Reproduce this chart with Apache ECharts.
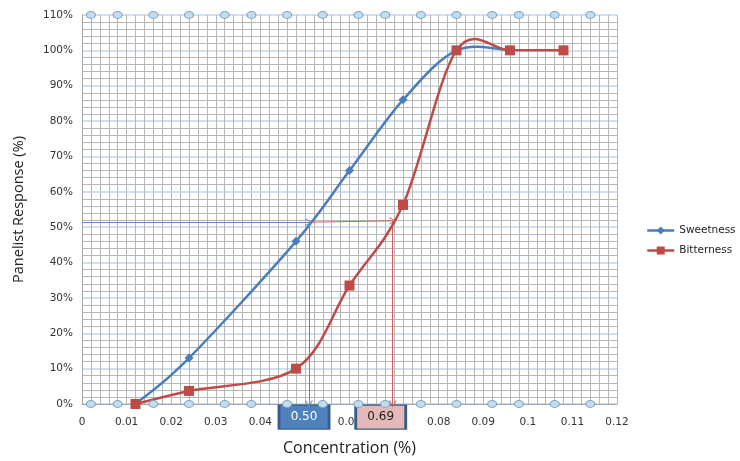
<!DOCTYPE html>
<html>
<head>
<meta charset="utf-8">
<script src="https://cdn.jsdelivr.net/npm/echarts@6/dist/echarts.min.js"></script>
<style>html,body{margin:0;padding:0;background:#fff}#c{width:740px;height:461px}</style>
</head>
<body>
<div id="c"></div>
<script>
// Concentration (%) values
var sweetX = [0.012, 0.024, 0.048, 0.060, 0.072, 0.084, 0.096];
var sweetY = [0, 13, 46, 66, 86, 100, 100];
var bitterX = [0.012, 0.024, 0.048, 0.060, 0.072, 0.084, 0.096, 0.108];
var bitterY = [0, 3.7, 10, 33.5, 56.3, 100, 100, 100];
// decorative circle markers along top (110%) and bottom (0%)
var ringX = [0.002, 0.008, 0.016, 0.024, 0.032, 0.038, 0.046, 0.054, 0.062, 0.068, 0.076, 0.084, 0.092, 0.098, 0.106, 0.114];
var ringY = [0, 110];
// read-off annotation
var readY = 51.4;
var sweetRead = 0.0509;
var bitterRead = 0.0697;
var bitterReadY = 51.8;
var boxLabels = ['0.50', '0.69'];
var boxX = [0.0498, 0.067];
var boxY = -3.7;

var BLUE = '#4a7ebb', RED = '#be4b48';
var pairs = function (xs, ys) { return xs.map(function (x, i) { return [x, ys[i]]; }); };
var rings = [];
ringY.forEach(function (y) { ringX.forEach(function (x) { rings.push([x, y]); }); });

// Excel-style smoothed curve through the data points (Catmull-Rom -> Bezier), drawn in pixel space
function smoothCurve(xs, ys, color) {
  return function (params, api) {
    if (params.dataIndex !== 0) return null;
    var p = xs.map(function (x, i) { return api.coord([x, ys[i]]); });
    var n = p.length, kids = [];
    for (var i = 0; i < n - 1; i++) {
      var p0 = p[Math.max(i - 1, 0)], p1 = p[i], p2 = p[i + 1], p3 = p[Math.min(i + 2, n - 1)];
      kids.push({
        type: 'bezierCurve',
        shape: {
          x1: p1[0], y1: p1[1], x2: p2[0], y2: p2[1],
          cpx1: p1[0] + (p2[0] - p0[0]) / 6, cpy1: p1[1] + (p2[1] - p0[1]) / 6,
          cpx2: p2[0] - (p3[0] - p1[0]) / 6, cpy2: p2[1] - (p3[1] - p1[1]) / 6
        },
        style: { stroke: color, lineWidth: 2.5, fill: null, lineCap: 'round' }
      });
    }
    return { type: 'group', children: kids };
  };
}

var chevron = 'path://M0,10L5,0L10,10L8.6,10L5,2.8L1.4,10Z';

var chart = echarts.init(document.getElementById('c'));
chart.setOption({
  animation: false,
  backgroundColor: '#fff',
  grid: { left: 82, right: 123, top: 15, bottom: 55 },
  legend: {
    orient: 'vertical', left: 641, top: 220, itemWidth: 27, itemHeight: 10, itemGap: 9,
    data: [
      { name: 'Sweetness', lineStyle: { color: BLUE, width: 2.5, opacity: 1 } },
      { name: 'Bitterness', lineStyle: { color: RED, width: 2.5, opacity: 1 } }
    ],
    textStyle: { fontFamily: 'DejaVu Sans', fontSize: 10.5, color: '#222' }
  },
  xAxis: {
    type: 'value', min: 0, max: 0.12, interval: 0.01,
    name: 'Concentration (%)', nameLocation: 'middle', nameGap: 36,
    nameTextStyle: { fontFamily: 'Open Sans', fontSize: 16, color: '#222' },
    axisLine: { show: true, lineStyle: { color: '#a6a6a6' } },
    axisTick: { show: false },
    axisLabel: { fontFamily: 'DejaVu Sans', fontSize: 10.5, color: '#333', margin: 13 },
    splitLine: { show: true, lineStyle: { color: '#b6b6b6', width: 1 } },
    minorTick: { show: false, splitNumber: 5 },
    minorSplitLine: { show: true, lineStyle: { color: '#b6b6b6', width: 1 } }
  },
  yAxis: {
    type: 'value', min: 0, max: 110, interval: 10,
    name: 'Panelist Response (%)', nameLocation: 'middle', nameGap: 56,
    nameTextStyle: { fontFamily: 'Open Sans', fontSize: 14.5, color: '#222' },
    axisLine: { show: true, lineStyle: { color: '#a6a6a6' } },
    axisTick: { show: false },
    axisLabel: { fontFamily: 'DejaVu Sans', fontSize: 10.5, color: '#333', margin: 9, formatter: '{value}%' },
    splitLine: { show: true, lineStyle: { color: '#c3d5ec', width: 1.5 } },
    minorTick: { show: false, splitNumber: 5 },
    minorSplitLine: { show: true, lineStyle: { color: '#b6b6b6', width: 1 } }
  },
  series: [
    {
      name: 'boxes', type: 'scatter', clip: false, z: 3,
      data: boxX.map(function (x, i) {
        return {
          value: [x, boxY],
          itemStyle: i === 0 ? { color: '#4f81bd', borderColor: '#385d8a', borderWidth: 2, opacity: 1 }
                             : { color: '#e6b9b8', borderColor: '#385d8a', borderWidth: 2, opacity: 1 },
          label: { formatter: boxLabels[i], color: i === 0 ? '#fff' : '#222' }
        };
      }),
      symbol: 'rect', symbolSize: [50, 24],
      label: { show: true, position: 'inside', fontFamily: 'DejaVu Sans', fontSize: 12 },
      emphasis: { disabled: true }, silent: true
    },
    {
      name: 'sweetCurve', type: 'custom', z: 4, silent: true,
      data: pairs(sweetX, sweetY), renderItem: smoothCurve(sweetX, sweetY, BLUE)
    },
    {
      name: 'bitterCurve', type: 'custom', z: 5, silent: true,
      data: pairs(bitterX, bitterY), renderItem: smoothCurve(bitterX, bitterY, RED)
    },
    {
      name: 'Sweetness', type: 'line', z: 6, clip: false,
      data: pairs(sweetX, sweetY),
      symbol: 'diamond', symbolSize: 9, showAllSymbol: true,
      lineStyle: { color: BLUE, width: 2.5, opacity: 0 },
      itemStyle: { color: BLUE },
      markLine: {
        silent: true, symbol: ['none', chevron], symbolSize: [8, 7],
        label: { show: false },
        lineStyle: { color: '#5b8ac6', width: 1, type: 'solid' },
        data: [
          [{ coord: [0, readY] }, { coord: [sweetRead, readY] }],
          [{ coord: [sweetRead, readY] }, { coord: [sweetRead, 0] }]
        ]
      }
    },
    {
      name: 'Bitterness', type: 'line', z: 7, clip: false,
      data: pairs(bitterX, bitterY),
      symbol: 'rect', symbolSize: 10, showAllSymbol: true,
      lineStyle: { color: RED, width: 2.5, opacity: 0 },
      itemStyle: { color: RED },
      markLine: {
        silent: true, symbol: ['none', chevron], symbolSize: [8, 7],
        label: { show: false },
        lineStyle: { color: '#d0605d', width: 1, type: 'solid' },
        data: [
          [{ coord: [sweetRead, readY] }, { coord: [bitterRead, bitterReadY] }],
          [{ coord: [bitterRead, bitterReadY] }, { coord: [bitterRead, 0] }]
        ]
      }
    },
    {
      name: 'rings', type: 'scatter', clip: false, z: 8,
      data: rings, symbol: 'circle', symbolSize: [9, 7],
      itemStyle: { color: '#c4dcec', borderColor: '#7ea6c4', borderWidth: 1, opacity: 1 },
      emphasis: { disabled: true }, silent: true
    }
  ]
});
</script>
</body>
</html>
